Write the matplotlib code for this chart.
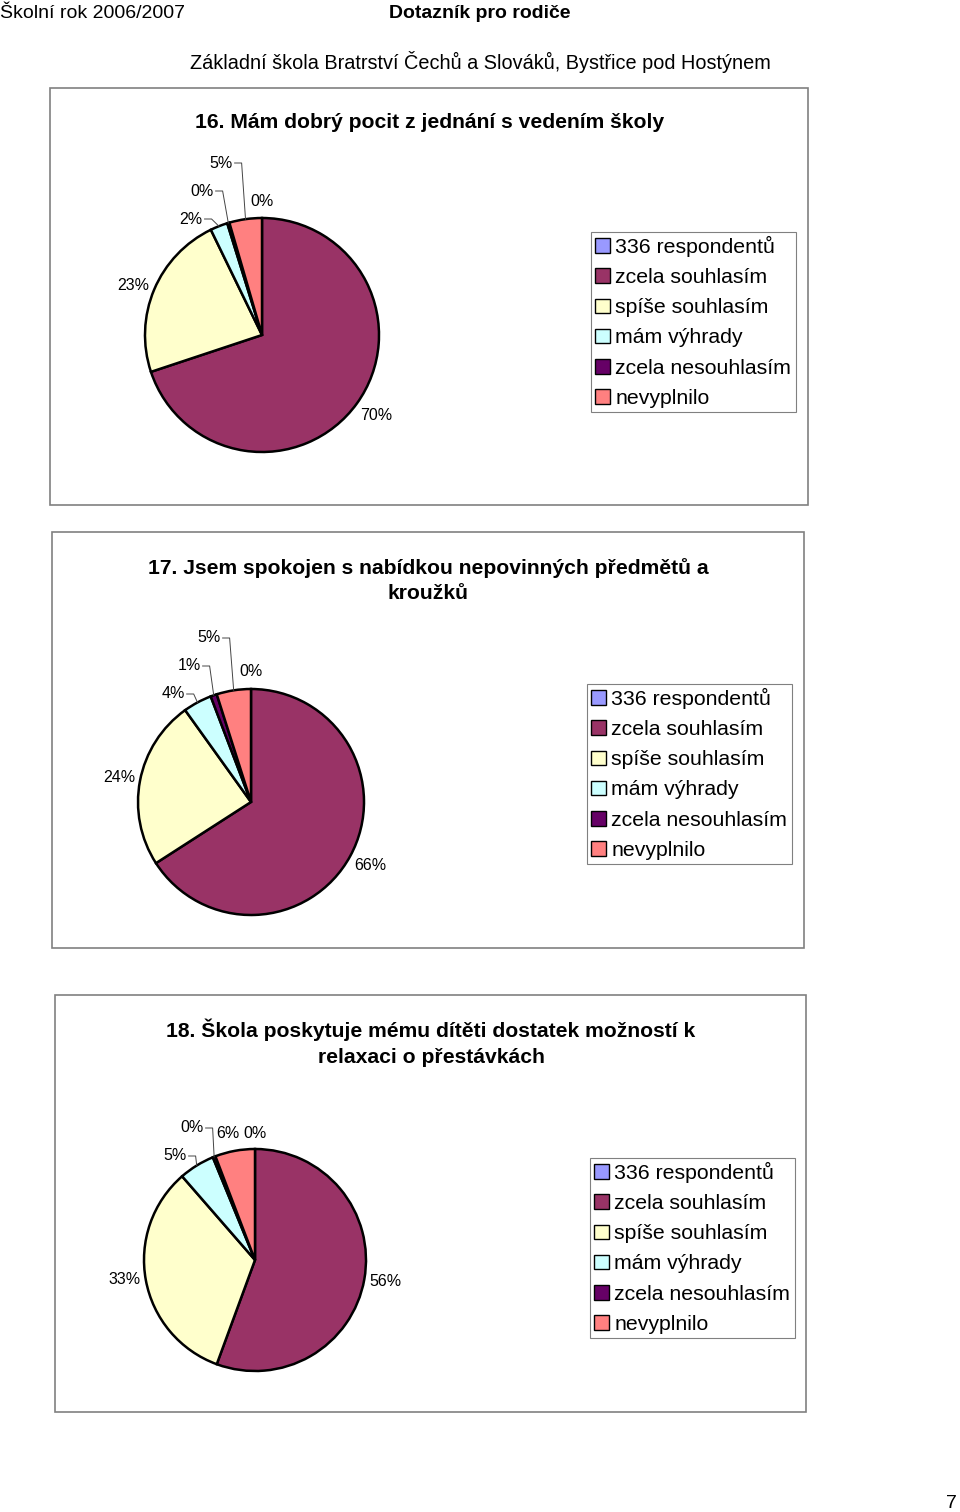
import matplotlib
matplotlib.use('Agg')
import matplotlib.pyplot as plt
from matplotlib.patches import Rectangle
import numpy as np

plt.rcParams['font.family'] = ['Liberation Sans', 'DejaVu Sans']

# ---------------- data ----------------
categories = ['336 respondentů', 'zcela souhlasím', 'spíše souhlasím',
              'mám výhrady', 'zcela nesouhlasím', 'nevyplnilo']
colors = ['#9999FF', '#993366', '#FFFFCC', '#CCFFFF', '#660066', '#FF8080']

header_left = 'Školní rok 2006/2007'
header_center = 'Dotazník pro rodiče'
school = 'Základní škola Bratrství Čechů a Slováků, Bystřice pod Hostýnem'
page_number = '7'

titles = ['16. Mám dobrý pocit z jednání s vedením školy',
          '17. Jsem spokojen s nabídkou nepovinných předmětů a\nkroužků',
          '18. Škola poskytuje mému dítěti dostatek možností k\nrelaxaci o přestávkách']

values_q16 = [0, 69.9, 22.9, 2.4, 0.3, 4.5]
values_q17 = [0, 65.9, 24.2, 4.1, 0.9, 4.9]
values_q18 = [0, 55.6, 33.0, 5.2, 0.4, 5.8]
labels_q16 = ['0%', '70%', '23%', '2%', '0%', '5%']
labels_q17 = ['0%', '66%', '24%', '4%', '1%', '5%']
labels_q18 = ['0%', '56%', '33%', '5%', '0%', '6%']

# ---------------- layout (pixels, y measured from top) ----------------
W, H = 960, 1512
def Y(y):
    return H - y

charts = [
    dict(values=values_q16, labels=labels_q16, title=titles[0],
         frame=(50, 88, 808, 505), center=(262, 335), radius=117,
         title_xy=(430, 123), legend_xy=(591, 232),
         label_xy=[(262, 202), (376, 415), (133, 285), (191, 219), (202, 191), (221, 163)],
         leader=[False, False, False, True, True, True]),
    dict(values=values_q17, labels=labels_q17, title=titles[1],
         frame=(52, 532, 804, 948), center=(251, 802), radius=113,
         title_xy=(428, 580.5), legend_xy=(587, 684),
         label_xy=[(251, 672), (370, 865), (119, 777), (173, 694), (189, 666), (209, 638)],
         leader=[False, False, False, True, True, True]),
    dict(values=values_q18, labels=labels_q18, title=titles[2],
         frame=(55, 995, 806, 1412), center=(255, 1260), radius=111,
         title_xy=(431, 1043), legend_xy=(590, 1158),
         label_xy=[(255, 1133), (385, 1282), (125, 1280), (175, 1156), (192, 1128), (228, 1134)],
         leader=[False, False, False, True, True, False]),
]

fig = plt.figure(figsize=(W / 100, H / 100), dpi=100)
ax = fig.add_axes([0, 0, 1, 1])

# header
ax.text(0, Y(13), header_left, fontsize=14, ha='left', va='center')
ax.text(480, Y(13), header_center, fontsize=14, fontweight='bold', ha='center', va='center')
ax.text(480, Y(62), school, fontsize=14.3, ha='center', va='center')
ax.text(957, Y(1503), page_number, fontsize=14, ha='right', va='center')

legends = []
label_texts = []
for c in charts:
    x0, y0, x1, y1 = c['frame']
    ax.add_patch(Rectangle((x0, Y(y1)), x1 - x0, y1 - y0, fill=False,
                           edgecolor='#808080', linewidth=1.2, zorder=1))
    cx, cy = c['center']
    wedges, _ = ax.pie(c['values'], colors=colors, startangle=90, counterclock=False,
                       center=(cx, Y(cy)), radius=c['radius'],
                       wedgeprops=dict(edgecolor='black', linewidth=1.8))
    ax.text(c['title_xy'][0], Y(c['title_xy'][1]), c['title'], fontsize=15.2,
            fontweight='bold', ha='center', va='center', linespacing=1.45)
    for (lx, ly), lab, ld, w in zip(c['label_xy'], c['labels'], c['leader'], wedges):
        t = ax.text(lx, Y(ly), lab, fontsize=11.5, ha='center', va='center')
        label_texts.append((t, ld, w, (cx, Y(cy)), c['radius']))
    leg = ax.legend(wedges, categories, loc='upper left',
                    bbox_to_anchor=(c['legend_xy'][0], Y(c['legend_xy'][1])),
                    bbox_transform=ax.transData, fontsize=15.3, frameon=True,
                    fancybox=False, edgecolor='#808080', framealpha=1,
                    borderpad=0.2, labelspacing=0.52, handlelength=0.7,
                    handleheight=0.7, handletextpad=0.25, borderaxespad=0)
    leg.get_frame().set_linewidth(0.8)
    for h in leg.legend_handles:
        h.set_linewidth(1.0)
    legends.append(leg)
for leg in legends[:-1]:
    ax.add_artist(leg)

ax.set_xlim(0, W)
ax.set_ylim(0, H)
ax.set_aspect('auto')
ax.axis('off')

# leader lines from labels to small slices
fig.canvas.draw()
for t, ld, w, (cx, cy), r in label_texts:
    if not ld:
        continue
    bb = t.get_window_extent()
    ymid = (bb.y0 + bb.y1) / 2
    mid = np.deg2rad((w.theta1 + w.theta2) / 2)
    ex, ey = cx + r * np.cos(mid), cy + r * np.sin(mid)
    ax.plot([bb.x1 + 2, bb.x1 + 9, ex], [ymid, ymid, ey], color='#444444',
            linewidth=0.7, zorder=5)

fig.savefig('out.png', dpi=100)
